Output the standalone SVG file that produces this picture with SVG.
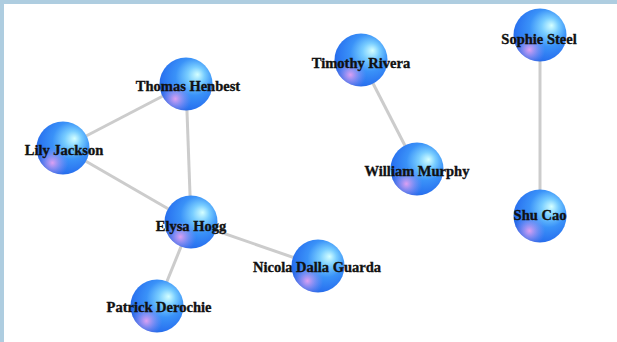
<svg xmlns="http://www.w3.org/2000/svg" width="617" height="342" viewBox="0 0 617 342">
  <defs>
    <radialGradient id="ball" cx="0.6" cy="0.4" r="0.64" fx="0.72" fy="0.32">
      <stop offset="0" stop-color="#d4ffff"/>
      <stop offset="0.25" stop-color="#78cdff"/>
      <stop offset="0.55" stop-color="#3a92f8"/>
      <stop offset="0.88" stop-color="#2a74f0"/>
      <stop offset="1" stop-color="#2564e2"/>
    </radialGradient>
    <radialGradient id="pink" cx="0.3" cy="0.78" r="0.3">
      <stop offset="0" stop-color="#f0a4f2" stop-opacity="0.9"/>
      <stop offset="0.5" stop-color="#c49cf5" stop-opacity="0.45"/>
      <stop offset="1" stop-color="#9a8cf5" stop-opacity="0"/>
    </radialGradient>
    <g id="sphere">
      <circle r="26.5" fill="url(#ball)"/>
      <circle r="26.5" fill="url(#pink)"/>
    </g>
  </defs>
  <style>
    .edge { stroke: #cccccc; stroke-width: 3; fill: none; }
    .lbl { font-family: "Liberation Serif", "Times New Roman", serif; font-weight: bold; font-size: 14.5px; fill: #111111; stroke: #111111; stroke-width: 0.35; text-anchor: middle; }
  </style>
  <rect width="617" height="342" fill="#ffffff"/>
  <rect x="0" y="0" width="617" height="4" fill="#aecde0"/>
  <rect x="0" y="0" width="4" height="342" fill="#aecde0"/>

  <g id="connectors">
    <line class="edge" x1="186" y1="84" x2="63" y2="148"/>
    <line class="edge" x1="186" y1="84" x2="191" y2="222"/>
    <line class="edge" x1="63" y1="148" x2="191" y2="222"/>
    <line class="edge" x1="191" y1="222" x2="318" y2="266"/>
    <line class="edge" x1="191" y1="222" x2="157" y2="306"/>
    <line class="edge" x1="361" y1="60" x2="417" y2="169"/>
    <line class="edge" x1="540" y1="35" x2="540" y2="216"/>
  </g>

  <g id="node-thomas-henbest" transform="translate(186,84)">
    <use href="#sphere"/>
    <text class="lbl" x="2" y="7">Thomas Henbest</text>
  </g>
  <g id="node-lily-jackson" transform="translate(63,148)">
    <use href="#sphere"/>
    <text class="lbl" x="1" y="7">Lily Jackson</text>
  </g>
  <g id="node-elysa-hogg" transform="translate(191,222)">
    <use href="#sphere"/>
    <text class="lbl" x="0" y="9">Elysa Hogg</text>
  </g>
  <g id="node-nicola-dalla-guarda" transform="translate(318,266)">
    <use href="#sphere"/>
    <text class="lbl" x="-1" y="6">Nicola Dalla Guarda</text>
  </g>
  <g id="node-patrick-derochie" transform="translate(157,306)">
    <use href="#sphere"/>
    <text class="lbl" x="2" y="6">Patrick Derochie</text>
  </g>
  <g id="node-timothy-rivera" transform="translate(361,60)">
    <use href="#sphere"/>
    <text class="lbl" x="0" y="8">Timothy Rivera</text>
  </g>
  <g id="node-william-murphy" transform="translate(417,169)">
    <use href="#sphere"/>
    <text class="lbl" x="0" y="7">William Murphy</text>
  </g>
  <g id="node-sophie-steel" transform="translate(540,35)">
    <use href="#sphere"/>
    <text class="lbl" x="-1" y="9">Sophie Steel</text>
  </g>
  <g id="node-shu-cao" transform="translate(540,216)">
    <use href="#sphere"/>
    <text class="lbl" x="0" y="4">Shu Cao</text>
  </g>
</svg>
